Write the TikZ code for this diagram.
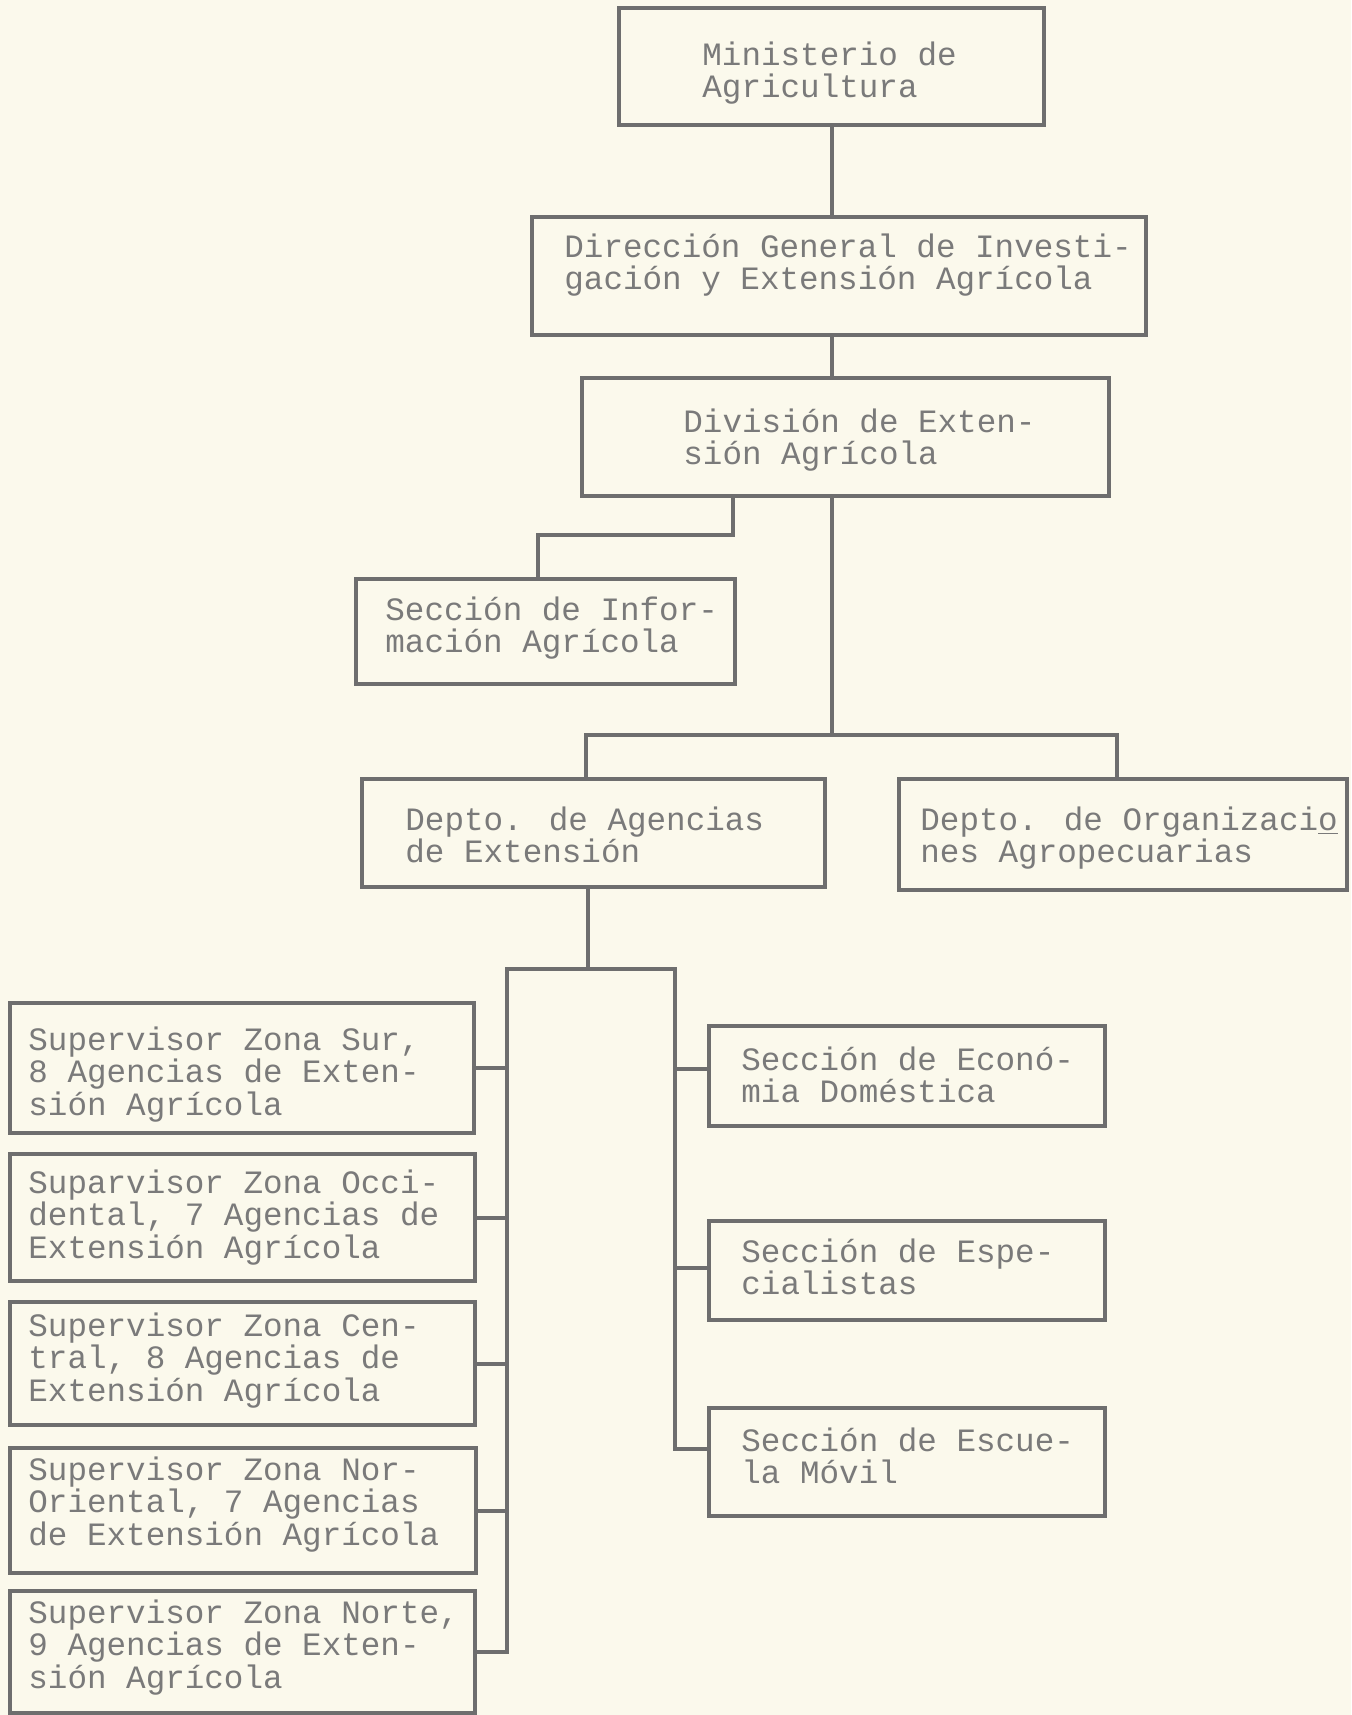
\documentclass[tikz,border=0pt]{standalone}
\usepackage{fontspec}
\newfontfamily\tw{Liberation Mono}
\definecolor{paper}{HTML}{FBF9EC}
\definecolor{ink}{HTML}{6E6E6E}
\definecolor{type}{HTML}{7A7A7A}
\tikzset{
  box/.style={draw=ink, line width=2pt, rectangle, inner sep=0pt, outer sep=0pt},
  conn/.style={draw=ink, line width=2pt, line cap=rect},
  txt/.style={anchor=base west, inner sep=0pt, align=left, text=type,
              font=\tw\fontsize{16.3pt}{16.25pt}\selectfont}
}
\newcommand{\mybox}[5]{\node[box, minimum width={(#4-#2)*0.5pt}, minimum height={(#5-#3)*0.5pt}] (#1) at ({(#2+#4)/2},{(#3+#5)/2}) {};}
\begin{document}
\begin{tikzpicture}[x=0.5pt,y=-0.5pt]
\fill[paper] (0,0) rectangle (1351,1715);
\useasboundingbox (0,0) rectangle (1351,1715);
% boxes
\mybox{min}{619}{8}{1044}{125}
\mybox{dir}{532}{217}{1146}{335}
\mybox{div}{582}{378}{1109}{496}
\mybox{info}{356}{579}{735}{684}
\mybox{dag}{362}{779}{825}{887}
\mybox{dorg}{899}{779}{1347}{890}
\mybox{sur}{10}{1003}{474}{1133}
\mybox{occ}{10}{1154}{475}{1281}
\mybox{cen}{10}{1302}{475}{1425}
\mybox{nor}{10}{1448}{476}{1573}
\mybox{nte}{10}{1591}{475}{1713}
\mybox{econ}{709}{1026}{1105}{1126}
\mybox{espec}{709}{1221}{1105}{1320}
\mybox{esc}{709}{1408}{1105}{1516}
% texts (anchor = baseline of the last line)
\node[txt] (tmin) at (702,97.5) {Ministerio de\\Agricultura};
\node[txt] (tdir) at (564,289.5) {Dirección General de Investi-\\gación y Extensión Agrícola};
\node[txt] (tdiv) at (683,464.5) {División de Exten-\\sión Agrícola};
\node[txt] (tinfo) at (385,652.5) {Sección de Infor-\\mación Agrícola};
\node[txt] (tdag) at (405,862.5) {Depto. de Agencias\\de Extensión};
\node[txt] (tdorg) at (920,862.5) {Depto. de Organizaci\underline{o}\\nes Agropecuarias};
\node[txt] (tsur) at (28,1115) {Supervisor Zona Sur,\\8 Agencias de Exten-\\sión Agrícola};
\node[txt] (tocc) at (28,1258) {Suparvisor Zona Occi-\\dental, 7 Agencias de\\Extensión Agrícola};
\node[txt] (tcen) at (28,1401) {Supervisor Zona Cen-\\tral, 8 Agencias de\\Extensión Agrícola};
\node[txt] (tnor) at (28,1545) {Supervisor Zona Nor-\\Oriental, 7 Agencias\\de Extensión Agrícola};
\node[txt] (tnte) at (28,1688) {Supervisor Zona Norte,\\9 Agencias de Exten-\\sión Agrícola};
\node[txt] (tecon) at (741,1102.5) {Sección de Econó-\\mia Doméstica};
\node[txt] (tespec) at (741,1294.5) {Sección de Espe-\\cialistas};
\node[txt] (tesc) at (741,1483.5) {Sección de Escue-\\la Móvil};
% junction coordinates
\coordinate (spine) at (832,0);
\coordinate (j1) at (733,535);
\coordinate (j2) at (538,535);
\coordinate (h1) at (586,735);
\coordinate (h2) at (1117,735);
\coordinate (b0) at (588,969);
\coordinate (bl) at (507,969);
\coordinate (br) at (675,969);
% connectors
\draw[conn] (spine |- min.south) -- (spine |- dir.north);
\draw[conn] (spine |- dir.south) -- (spine |- div.north);
\draw[conn] (j1 |- div.south) -- (j1) -- (j2) -- (j2 |- info.north);
\draw[conn] (spine |- div.south) -- (spine |- h1);
\draw[conn] (h1 |- dag.north) -- (h1) -- (h2) -- (h2 |- dorg.north);
\draw[conn] (b0 |- dag.south) -- (b0);
\draw[conn] (bl |- nte.east) -- (bl) -- (br) -- (br |- 0,1449) -- (esc.west |- 0,1449);
\draw[conn] (sur.east) -- (bl |- sur.east);
\draw[conn] (occ.east) -- (bl |- occ.east);
\draw[conn] (cen.east) -- (bl |- cen.east);
\draw[conn] (nor.east) -- (bl |- nor.east);
\draw[conn] (nte.east) -- (bl |- nte.east);
\draw[conn] (br |- 0,1069) -- (econ.west |- 0,1069);
\draw[conn] (br |- 0,1268) -- (espec.west |- 0,1268);
\end{tikzpicture}
\end{document}
